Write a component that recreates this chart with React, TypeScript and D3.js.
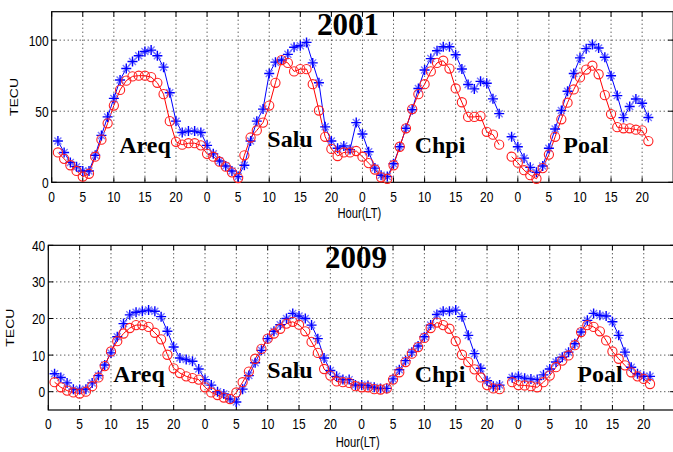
import React from 'react';
import * as d3 from 'd3';

// x index runs 1..96 (four stations, hourly LT); null = gap
const tec2001Blue: (number | null)[] = [
  29, 21, 14, 11, 8, 8, 19, 33, 46, 59, 72, 80, 85, 89, 92, 93, 89, 81, 63, 43, 35, 36, 36, 35,
  26, 20, 15, 11.5, 8, 4, 12, 29, 43, 51.5, 76.5, 84.5, 86, 90, 95, 96, 98.4, 84, 70, 39, 29, 24, 25.5, 23,
  42, 34, 21.5, 10, 5, 4, 13, 25, 38, 51, 66, 79, 87, 92.5, 95.3, 95.3, 89.7, 79.7, 68.8, 65.7, 71, 69.7, 58.7, 48.3,
  null, 32, 25, 17, 10.5, 7, 11.5, 24, 37.5, 50.5, 64, 76.5, 87.5, 94, 97, 94.5, 88, 75, 61, 45.5, 53.3, 58.6, 55.6, 45.6,
];
const tec2001Red: (number | null)[] = [
  21, 16.5, 12, 8, 4, 6, 18, 30, 41.5, 54, 65, 71.5, 74.5, 75, 75, 74, 70, 62, 43, 28.5, 26.5, 27.5, 27.5, 26,
  20, 18, 14.5, 11, 7, 3, 19, 31.5, 36.5, 42, 54, 70, 86, 84, 78, 79.6, 79.6, 69, 50.5, 32, 23.5, 18.5, 21, 21,
  22, 18, 13.5, 9, 3.5, 2.5, 12, 25, 38, 51.5, 62, 69, 78, 84, 85.5, 80, 66, 56.3, 46, 46, 46.6, 35.5, 33.5, 26.5,
  null, 18, 13.8, 8.5, 5, 2.5, 10, 19.5, 32, 44.3, 56, 65.3, 73.8, 79.3, 82, 76, 61.3, 48, 38.8, 38, 38, 37, 36.5, 29,
];
const tec2009Blue: (number | null)[] = [
  4.9, 3.9, 2.4, 0.7, 0.6, 0.7, 2.4, 4.4, 7.3, 10.6, 15, 18.6, 21, 21.7, 22, 22.3, 22, 20.5, 16.5, 12.2, 9.2, 8.8, 8.3, 6.2,
  3.3, 1.8, 0, -0.6, -2, -2.8, 0.7, 4.4, 7.9, 11.3, 14.5, 16.5, 18.3, 20, 21.4, 20.7, 20, 18.2, 14.5, 9.2, 5.8, 4.2, 3.3, 3.3,
  1.8, 1.8, 1.7, 1.2, 0.9, 0.9, 3.5, 6, 8.5, 10.8, 12.5, 15, 18.2, 21.1, 22, 22, 22.3, 20.5, 15.4, 10.4, 6.4, 3, 1.5, 1.8,
  null, 3.9, 4.2, 3.7, 3.5, 3.3, 4.6, 6.2, 8.1, 9.4, 10.8, 13.1, 16.3, 19.5, 21.4, 20.9, 20.7, 19.1, 15.4, 10.8, 6.7, 4.9, 4.2, 4.2,
];
const tec2009Red: (number | null)[] = [
  2.6, 1.2, 0.3, -0.2, -0.5, 0, 1.5, 3.9, 7, 11, 13.8, 15.9, 17.4, 18.2, 18.2, 17.7, 16.1, 14.3, 10.1, 6.4, 5.1, 4.2, 3.7, 3.3,
  1.2, -0.2, -0.9, -1.6, -2, -0.2, 2.6, 5.5, 9, 11.7, 14.5, 15.9, 17.2, 18.6, 19.1, 18.3, 16.5, 13.6, 10.6, 6.2, 4.4, 2.8, 2.6, 2.4,
  1.5, 1.2, 1.2, 0.7, 0.6, 0.9, 3.3, 5.3, 8.1, 10.4, 12.2, 14.7, 17.4, 18.9, 18.2, 17.2, 13.8, 10.1, 8.1, 6.1, 3.9, 1.8, 0.9, 0.7,
  null, 2.6, 1.8, 1.7, 1.5, 1.2, 2.6, 4.4, 6.7, 8.5, 9.9, 12.7, 16.3, 18.2, 17.7, 16.5, 14, 11, 9, 7.2, 5.3, 4.2, 3.5, 2.1,
];

const xTickValues = [0, 5, 10, 15, 20, 25, 30, 35, 40, 45, 50, 55, 60, 65, 70, 75, 80, 85, 90, 95];
const xTickLabels = ['0', '5', '10', '15', '20', '0', '5', '10', '15', '20', '0', '5', '10', '15', '20', '0', '5', '10', '15', '20'];
const stations = ['Areq', 'Salu', 'Chpi', 'Poal'];

const SANS = 'Liberation Sans, Arial, sans-serif';
const SERIF = 'Liberation Serif, Times New Roman, serif';
const SQ = 0.8;

type PanelProps = {
  title: string;
  blue: (number | null)[];
  red: (number | null)[];
  yDomain: [number, number];
  yTicks: number[];
  box: { left: number; right: number; top: number; bottom: number };
  titlePos: [number, number];
  labelPos: [number, number][];
  xTickBaseline: number;
  xLabelBaseline: number;
};

function Panel(p: PanelProps) {
  const x = d3.scaleLinear().domain([0, 100]).range([p.box.left, p.box.right]);
  const y = d3.scaleLinear().domain(p.yDomain).range([p.box.bottom, p.box.top]);
  const line = d3
    .line<number | null>()
    .defined((d) => d !== null)
    .x((_, i) => x(i + 1))
    .y((d) => y(d as number));
  const { left, right, top, bottom } = p.box;
  const tl = 5;
  return (
    <g>
      {xTickValues.filter((v) => v > 0).map((v) => (
        <line key={'gx' + v} x1={x(v)} x2={x(v)} y1={top} y2={bottom} stroke="#000" strokeWidth={0.9} strokeDasharray="1,3" />
      ))}
      {p.yTicks.filter((v) => y(v) < bottom - 1 && y(v) > top + 1).map((v) => (
        <line key={'gy' + v} x1={left} x2={right} y1={y(v)} y2={y(v)} stroke="#000" strokeWidth={0.9} strokeDasharray="1,3" />
      ))}
      {xTickValues.map((v) => (
        <g key={'tx' + v}>
          <line x1={x(v)} x2={x(v)} y1={bottom} y2={bottom - tl} stroke="#000" strokeWidth={1} />
          <line x1={x(v)} x2={x(v)} y1={top} y2={top + tl} stroke="#000" strokeWidth={1} />
        </g>
      ))}
      {p.yTicks.map((v) => (
        <g key={'ty' + v}>
          <line x1={left} x2={left + tl} y1={y(v)} y2={y(v)} stroke="#000" strokeWidth={1} />
          <line x1={right} x2={right - tl} y1={y(v)} y2={y(v)} stroke="#000" strokeWidth={1} />
        </g>
      ))}
      <rect x={left} y={top} width={right - left} height={bottom - top} fill="none" stroke="#000" strokeWidth={1.2} />
      {xTickValues.map((v, i) => (
        <text key={'lx' + v} transform={`translate(${x(v)},${p.xTickBaseline}) scale(${SQ},1)`} textAnchor="middle" fontFamily={SANS} fontSize={15}>
          {xTickLabels[i]}
        </text>
      ))}
      {p.yTicks.map((v) => (
        <text key={'ly' + v} transform={`translate(${left - 3},${y(v) + 5.5}) scale(${SQ},1)`} textAnchor="end" fontFamily={SANS} fontSize={15}>
          {v}
        </text>
      ))}
      <text transform={`translate(${(left + 673) / 2 - 3},${p.xLabelBaseline}) scale(${SQ},1)`} textAnchor="middle" fontFamily={SANS} fontSize={14}>
        Hour(LT)
      </text>
      <text transform={`translate(${left - 34},${(top + bottom) / 2}) scale(${SQ},1) rotate(-90)`} textAnchor="middle" fontFamily={SANS} fontSize={14}>
        TECU
      </text>
      <path d={line(p.blue) || ''} fill="none" stroke="#0000ff" strokeWidth={1} />
      <path d={line(p.red) || ''} fill="none" stroke="#ff0000" strokeWidth={1} />
      {p.blue.map((d, i) =>
        d === null ? null : (
          <g key={'b' + i} transform={`translate(${x(i + 1)},${y(d)})`}>
            <path d="M-3.5,-3.5L3.5,3.5M-3.5,3.5L3.5,-3.5" stroke="#7a7aff" strokeWidth={1.4} />
            <path d="M-5,0H5M0,-5V5" stroke="#0000ff" strokeWidth={1.4} />
          </g>
        )
      )}
      {p.red.map((d, i) =>
        d === null ? null : (
          <circle key={'r' + i} cx={x(i + 1)} cy={y(d)} r={4.6} fill="none" stroke="#ff2020" strokeWidth={1.1} />
        )
      )}
      <text x={p.titlePos[0]} y={p.titlePos[1]} textAnchor="middle" fontFamily={SERIF} fontWeight="bold" fontSize={31}>
        {p.title}
      </text>
      {stations.map((s, i) => (
        <text key={s} x={p.labelPos[i][0]} y={p.labelPos[i][1]} textAnchor="middle" fontFamily={SERIF} fontWeight="bold" fontSize={24}>
          {s}
        </text>
      ))}
    </g>
  );
}

export default function App() {
  return (
    <svg width={673} height={452} style={{ position: 'absolute', left: 0, top: 0, background: '#fff' }}>
      <rect x={0} y={0} width={673} height={452} fill="#fff" />
      <Panel
        title="2001"
        blue={tec2001Blue}
        red={tec2001Red}
        yDomain={[0, 120]}
        yTicks={[0, 50, 100]}
        box={{ left: 51.7, right: 673.2, top: 11.7, bottom: 182.3 }}
        titlePos={[348, 35]}
        labelPos={[[145, 153], [290, 147], [440, 153], [586, 153]]}
        xTickBaseline={202}
        xLabelBaseline={218}
      />
      <Panel
        title="2009"
        blue={tec2009Blue}
        red={tec2009Red}
        yDomain={[-5, 40]}
        yTicks={[0, 10, 20, 30, 40]}
        box={{ left: 48.3, right: 675.1, top: 245.3, bottom: 410 }}
        titlePos={[356, 268]}
        labelPos={[[139, 382], [290, 378], [440, 382], [600, 382]]}
        xTickBaseline={429}
        xLabelBaseline={447}
      />
    </svg>
  );
}
